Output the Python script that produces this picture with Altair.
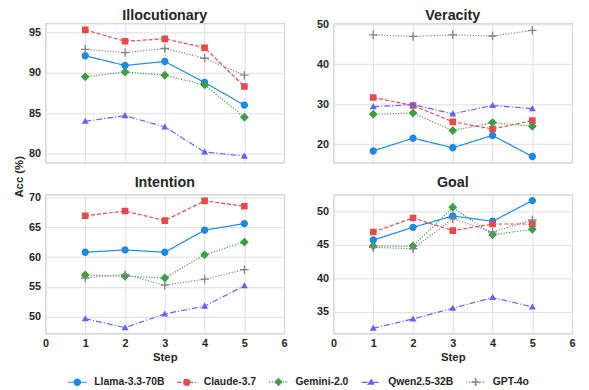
import altair as alt
import pandas as pd

models = ["Llama-3.3-70B", "Claude-3.7", "Gemini-2.0", "Qwen2.5-32B", "GPT-4o"]
steps = [1, 2, 3, 4, 5]

illocutionary = {
    "Llama-3.3-70B": [92.1, 90.9, 91.4, 88.8, 86.0],
    "Claude-3.7": [95.3, 93.9, 94.2, 93.1, 88.3],
    "Gemini-2.0": [89.5, 90.1, 89.7, 88.5, 84.5],
    "Qwen2.5-32B": [84.0, 84.7, 83.3, 80.2, 79.7],
    "GPT-4o": [92.9, 92.5, 93.0, 91.8, 89.7],
}
veracity = {
    "Llama-3.3-70B": [18.3, 21.5, 19.1, 22.2, 16.9],
    "Claude-3.7": [31.7, 29.7, 25.6, 23.8, 25.9],
    "Gemini-2.0": [27.5, 27.8, 23.4, 25.4, 24.5],
    "Qwen2.5-32B": [29.4, 29.9, 27.6, 29.7, 28.9],
    "GPT-4o": [47.4, 47.0, 47.4, 47.1, 48.5],
}
intention = {
    "Llama-3.3-70B": [60.8, 61.2, 60.8, 64.5, 65.6],
    "Claude-3.7": [66.9, 67.7, 66.1, 69.4, 68.5],
    "Gemini-2.0": [57.0, 56.8, 56.5, 60.4, 62.5],
    "Qwen2.5-32B": [49.7, 48.2, 50.5, 51.8, 55.2],
    "GPT-4o": [56.5, 57.1, 55.3, 56.3, 57.9],
}
goal = {
    "Llama-3.3-70B": [45.7, 47.6, 49.3, 48.5, 51.6],
    "Claude-3.7": [46.9, 49.0, 47.1, 48.1, 48.1],
    "Gemini-2.0": [44.8, 44.8, 50.6, 46.5, 47.3],
    "Qwen2.5-32B": [32.5, 33.9, 35.5, 37.1, 35.7],
    "GPT-4o": [44.6, 44.4, 48.9, 46.9, 48.7],
}

# styles
colors = ["#1E88E5", "#E64B4B", "#3D9E47", "#6262FA", "#858585"]
dashes = [[1, 0], [4, 2], [1.2, 1.6], [6, 2, 1.2, 2], [1.2, 1.6]]
seg = "M-3,0H3"
paths = [
    seg + "M1,0A1,1 0 1,1 -1,0A1,1 0 1,1 1,0Z",
    seg + "M-0.9,-0.9H0.9V0.9H-0.9Z",
    seg + "M0,-1.2L1.2,0L0,1.2L-1.2,0Z",
    seg + "M0,-0.95L0.95,0.7L-0.95,0.7Z",
    seg + "M-1.15,-0.18H-0.18V-1.15H0.18V-0.18H1.15V0.18H0.18V1.15H-0.18V0.18H-1.15Z",
]

FONT = "Liberation Sans"
TXT = "#262626"

legend = alt.Legend(
    orient="none", legendX=27, legendY=358, direction="horizontal", title=None,
    labelFont=FONT, labelFontSize=10.5, labelFontWeight="bold", labelColor=TXT,
    symbolSize=41, symbolStrokeWidth=1.2, labelOffset=12, columnPadding=10,
)


def panel(name, values, ydom, yticks, show_x, ytitle, toff):
    rows = [{"step": s, "model": m, "acc": v}
            for m in models for s, v in zip(steps, values[m])]
    df = pd.DataFrame(rows)
    base = alt.Chart(df)
    x = alt.X("step:Q", scale=alt.Scale(domain=[0, 6], nice=False),
              axis=alt.Axis(values=list(range(7)), labels=show_x, labelFlush=False,
                            title="Step" if show_x else None))
    yaxis = dict(values=yticks)
    if ytitle:
        yaxis.update(title="Acc (%)", titleY=155, titleAnchor="middle", titleAlign="center")
    else:
        yaxis.update(title=None)
    y = alt.Y("acc:Q", scale=alt.Scale(domain=ydom, nice=False, zero=False),
              axis=alt.Axis(**yaxis))
    color = alt.Color("model:N", scale=alt.Scale(domain=models, range=colors), legend=legend)
    dash = alt.StrokeDash("model:N", scale=alt.Scale(domain=models, range=dashes), legend=legend)
    shape = alt.Shape("model:N", scale=alt.Scale(domain=models, range=paths), legend=legend)
    line = base.mark_line(strokeWidth=1.2).encode(x=x, y=y, color=color, strokeDash=dash)
    pts = base.mark_point(filled=True, size=56, opacity=1).encode(x=x, y=y, color=color, shape=shape)
    return alt.layer(line, pts).properties(
        width=242, height=141,
        title=alt.TitleParams(name, fontSize=14.5, fontWeight="bold", font=FONT,
                              color=TXT, offset=toff, baseline="alphabetic", anchor="middle"),
    )


tl = panel("Illocutionary", illocutionary, [78.9, 96.1], [80, 85, 90, 95], False, True, -11.5)
tr = panel("Veracity", veracity, [15.4, 50.25], [20, 30, 40, 50], False, False, -16)
bl = panel("Intention", intention, [47.2, 70.45], [50, 55, 60, 65, 70], True, False, -10.3)
br = panel("Goal", goal, [31.7, 52.5], [35, 40, 45, 50], True, False, -7)

chart = alt.concat(
    tl, tr, bl, br, columns=2, spacing={"row": 32.5, "column": 50}, bounds="flush"
).configure_view(
    stroke="#cccccc", strokeWidth=1.2
).configure_axis(
    grid=True, gridColor="#dedede", gridWidth=1, domain=False, ticks=False, tickSize=0,
    labelFont=FONT, labelFontSize=11, labelFontWeight="bold", labelColor=TXT, labelPadding=5,
    titleFont=FONT, titleFontSize=11.5, titleFontWeight="bold", titleColor=TXT,
).configure_axisX(labelPadding=4, titlePadding=3).properties(
    padding={"left": 5, "top": -4, "right": 5, "bottom": 0}
)

chart.save("out.html", embed_options={"renderer": "svg", "actions": False})
